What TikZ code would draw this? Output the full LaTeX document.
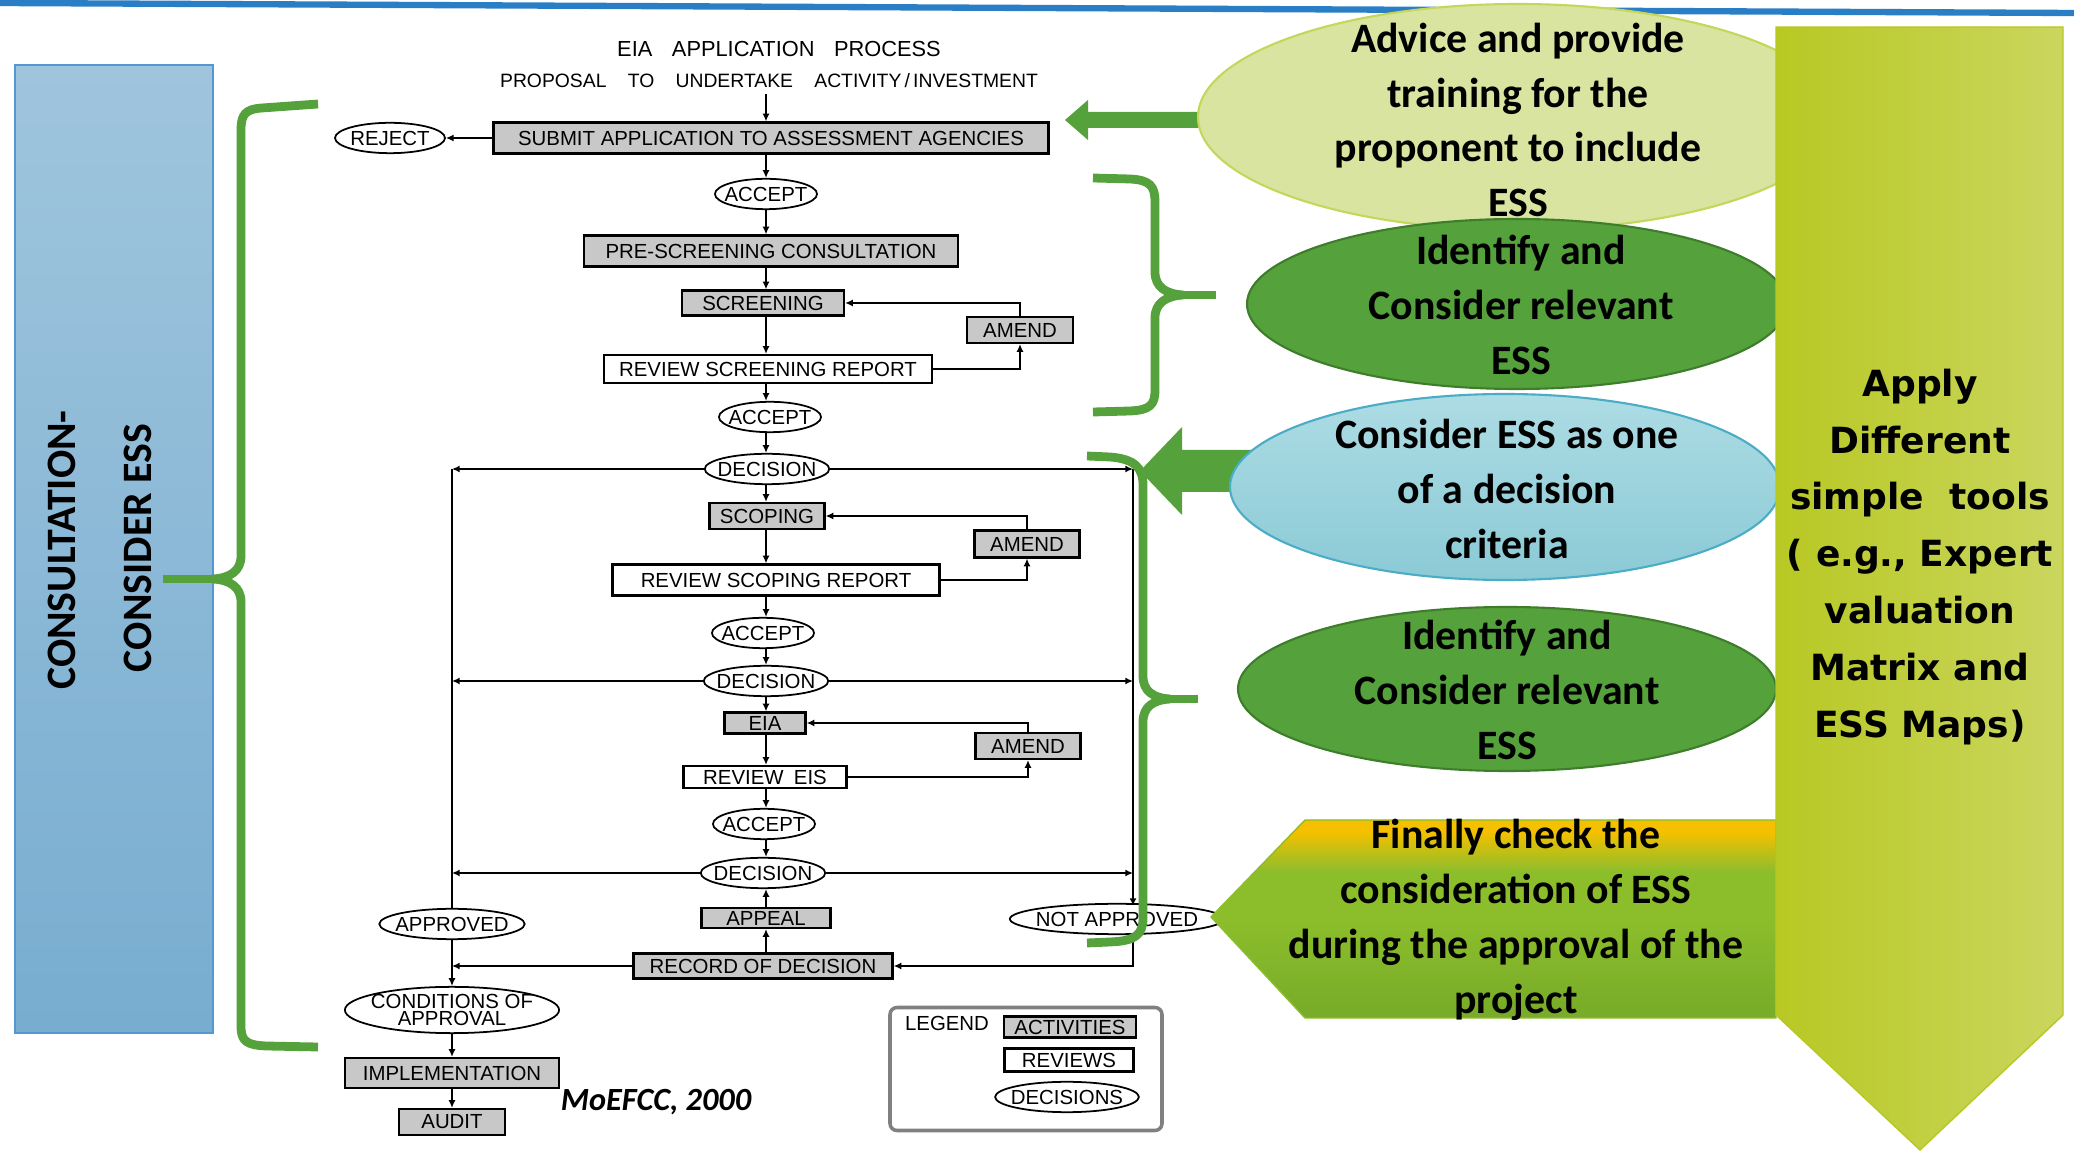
\documentclass[tikz,border=0pt]{standalone}
\usepackage{fontspec}
\setmainfont{Liberation Sans}
\newfontfamily\calfont{Carlito}
\newfontfamily\widefont{DejaVu Sans}
\usetikzlibrary{arrows.meta,shapes.geometric}

\definecolor{essgreen}{HTML}{55A13B}
\definecolor{essdark}{HTML}{3E7D2B}
\definecolor{paleolive}{HTML}{D9E4A0}
\definecolor{oliveline}{HTML}{C6D65A}
\definecolor{skytop}{HTML}{ADDCE4}
\definecolor{skybot}{HTML}{8BCAD6}
\definecolor{skyline}{HTML}{4BACC6}
\definecolor{limeleft}{HTML}{B8C823}
\definecolor{limeright}{HTML}{CAD65E}
\definecolor{boxgray}{HTML}{C8C8C8}
\definecolor{steeltop}{HTML}{9FC5DD}
\definecolor{steelbot}{HTML}{78ADD0}
\definecolor{topblue}{HTML}{2A7EC6}
\definecolor{amber}{HTML}{F5C000}
\definecolor{leaf}{HTML}{8CBE2B}
\definecolor{leafdark}{HTML}{77AB29}

\pgfdeclareverticalshading{checkfade}{100bp}{color(0bp)=(leafdark); color(25bp)=(leafdark); color(50bp)=(leaf); color(62bp)=(leaf); color(72bp)=(amber); color(100bp)=(amber)}

\tikzset{
  dims/.style 2 args={minimum width=#1*0.01cm, minimum height=#2*0.01cm},
  flow/.style={font=\fontsize{5.8}{6.2}\selectfont, inner sep=0pt},
  act/.style={flow, rectangle, draw, line width=0.6pt, fill=boxgray},
  rev/.style={flow, rectangle, draw, line width=0.6pt, fill=white},
  dec/.style={flow, ellipse, draw, line width=0.5pt, fill=white, inner xsep=-1.5pt, inner ysep=1pt},
  arr/.style={line width=0.5pt, -{Latex[length=2.2pt,width=2pt]}},
  brace/.style={essgreen, line width=2.5pt, line join=round},
  note/.style={font=\calfont\bfseries\fontsize{11.9}{15.6}\selectfont, align=center},
}

\begin{document}
\begin{tikzpicture}[x=0.01cm, y=-0.01cm]
  \fill[white] (0,0) rectangle (2074,1152);
  \useasboundingbox (0,0) rectangle (2074,1152);

  % Top rule and consultation panel
  \draw[topblue, line width=1.8pt] (0,3) -- (2074,13);
  \draw[top color=steeltop, bottom color=steelbot, draw=topblue!80] (15,65) rectangle (213,1033);
  \node[rotate=90, font=\calfont\bfseries\fontsize{11.9}{14}\selectfont] (consult) at (62,550) {CONSULTATION-};
  \node[rotate=90, font=\calfont\bfseries\fontsize{11.9}{14}\selectfont] (consider) at (138,548) {CONSIDER ESS};

  % EIA application process
  \coordinate (col) at (766,0);
  \node[inner sep=0pt, font={\fontsize{6.2}{7}\selectfont\spaceskip=0.9em\relax}] (title) at (779,49) {EIA APPLICATION PROCESS};
  \node[inner sep=0pt, font={\fontsize{5.5}{6}\selectfont\spaceskip=1.1em\relax}] (proposal) at (769,81) {PROPOSAL TO UNDERTAKE ACTIVITY\,/\,INVESTMENT};

  \node[act, dims={555}{31}] (submit) at (771,138) {SUBMIT APPLICATION TO ASSESSMENT AGENCIES};
  \node[dec, dims={110}{29}] (reject) at (390,138) {REJECT};
  \node[dec] (accA) at (766,194) {ACCEPT};
  \node[act, dims={374}{31}] (pre) at (771,251) {PRE-SCREENING CONSULTATION};
  \node[act, dims={162}{25}] (scr) at (763,303) {SCREENING};
  \node[act, dims={106}{26}] (amendA) at (1020,330) {AMEND};
  \node[rev, dims={328}{28}] (revScr) at (768,369) {REVIEW SCREENING REPORT};
  \node[dec] (accB) at (770,417) {ACCEPT};
  \node[dec] (decA) at (767,469) {DECISION};
  \node[act, dims={115}{26}] (scop) at (767,516) {SCOPING};
  \node[act, dims={105}{27}] (amendB) at (1027,544) {AMEND};
  \node[rev, dims={327}{31}] (revScop) at (776,580) {REVIEW SCOPING REPORT};
  \node[dec] (accC) at (763,633) {ACCEPT};
  \node[dec] (decB) at (766,681) {DECISION};
  \node[act, dims={81}{21}] (eia) at (765,723) {EIA};
  \node[act, dims={105}{26}] (amendC) at (1028,746) {AMEND};
  \node[rev, dims={163}{22}] (revEis) at (765,777) {REVIEW\enspace EIS};
  \node[dec] (accD) at (764,824) {ACCEPT};
  \node[dec] (decC) at (763,873) {DECISION};
  \node[act, dims={129}{20}] (appeal) at (766,918) {APPEAL};
  \node[dec] (approved) at (452,924) {APPROVED};
  \node[dec] (notapp) at (1117,919) {NOT APPROVED};
  \node[act, dims={259}{25}] (record) at (763,966) {RECORD OF DECISION};
  \node[dec, align=center, inner ysep=0.3pt, font=\fontsize{5.8}{4.6}\selectfont] (cond) at (452,1010) {CONDITIONS OF\\APPROVAL};
  \node[act, dims={214}{30}] (impl) at (452,1073) {IMPLEMENTATION};
  \node[act, dims={106}{26}] (audit) at (452,1122) {AUDIT};
  \coordinate (rline) at (1133,906);

  % main column
  \draw[arr, shorten <=1.5pt] (proposal.south -| col) -- (submit.north -| col);
  \draw[arr] (submit.west) -- (reject.east);
  \draw[arr] (submit.south -| col) -- (accA.north -| col);
  \draw[arr] (accA.south -| col) -- (pre.north -| col);
  \draw[arr] (pre.south -| col) -- (scr.north -| col);
  \draw[arr] (scr.south -| col) -- (revScr.north -| col);
  \draw[arr] (revScr.south -| col) -- (accB.north -| col);
  \draw[arr] (accB.south -| col) -- (decA.north -| col);
  \draw[arr] (decA.south -| col) -- (scop.north -| col);
  \draw[arr] (scop.south -| col) -- (revScop.north -| col);
  \draw[arr] (revScop.south -| col) -- (accC.north -| col);
  \draw[arr] (accC.south -| col) -- (decB.north -| col);
  \draw[arr] (decB.south -| col) -- (eia.north -| col);
  \draw[arr] (eia.south -| col) -- (revEis.north -| col);
  \draw[arr] (revEis.south -| col) -- (accD.north -| col);
  \draw[arr] (accD.south -| col) -- (decC.north -| col);
  \draw[arr] (record.north -| col) -- (appeal.south -| col);
  \draw[arr] (appeal.north -| col) -- (decC.south -| col);

  % amend loops
  \draw[arr] (revScr.east) -| (amendA.south);
  \draw[arr] (amendA.north) |- (scr.east);
  \draw[arr] (revScop.east) -| (amendB.south);
  \draw[arr] (amendB.north) |- (scop.east);
  \draw[arr] (revEis.east) -| (amendC.south);
  \draw[arr] (amendC.north) |- (eia.east);

  % decision branches
  \draw[arr] (decA.west) -- (decA.west -| approved);
  \draw[arr] (decA.east) -- (decA.east -| rline);
  \draw[arr] (decB.west) -- (decB.west -| approved);
  \draw[arr] (decB.east) -- (decB.east -| rline);
  \draw[arr] (decC.west) -- (decC.west -| approved);
  \draw[arr] (decC.east) -- (decC.east -| rline);
  \draw (decA.west -| approved) -- (approved.north);
  \draw[arr] (decA.east -| rline) -- (rline);
  \draw[arr] (notapp.south -| rline) |- (record.east);
  \draw[arr] (record.west) -- (record.west -| approved);
  \draw[arr] (approved.south) -- (cond.north);
  \draw[arr] (cond.south) -- (impl.north);
  \draw[arr] (impl.south) -- (audit.north);

  % Legend and source
  \node[draw=gray, line width=1pt, rounded corners=2pt, dims={272}{123}] (legbox) at (1026,1069) {};
  \node[flow] (legend) at (947,1023) {LEGEND};
  \node[act, dims={132}{21}] (legAct) at (1070,1027) {ACTIVITIES};
  \node[rev, dims={129}{23}] (legRev) at (1069,1060) {REVIEWS};
  \node[dec] (legDec) at (1067,1097) {DECISIONS};
  \node[font=\calfont\bfseries\itshape\fontsize{9.2}{11}\selectfont] (source) at (656,1102) {MoEFCC, 2000};

  % Braces
  \draw[brace] (318,104) -- (262,108) .. controls (245,109) and (241,115) .. (241,130) -- (241,556) .. controls (241,571) and (230,578) .. (213,579) .. controls (230,580) and (241,587) .. (241,602) -- (241,1026) .. controls (241,1041) and (246,1045) .. (266,1046) -- (318,1047);
  \draw[brace] (213,579) -- (163,579);
  \draw[brace] (1093,178) -- (1130,179) .. controls (1150,180) and (1155,186) .. (1155,202) -- (1155,272) .. controls (1155,287) and (1166,294) .. (1183,295) .. controls (1166,296) and (1155,303) .. (1155,318) -- (1155,390) .. controls (1155,405) and (1150,410) .. (1130,411) -- (1093,412);
  \draw[brace] (1183,295) -- (1216,295);
  \draw[brace] (1087,456) -- (1110,457) .. controls (1135,459) and (1143,468) .. (1143,485) -- (1143,676) .. controls (1143,691) and (1153,698) .. (1170,699) .. controls (1153,700) and (1143,707) .. (1143,722) -- (1143,918) .. controls (1143,935) and (1135,941) .. (1110,942) -- (1087,943);
  \draw[brace] (1170,699) -- (1198,699);

  % Green arrows
  \fill[essgreen] (1065,120) -- (1088,100) -- (1088,112) -- (1210,112) -- (1210,128) -- (1088,128) -- (1088,140) -- cycle;
  \fill[essgreen] (1140,471) -- (1182,427) -- (1182,450) -- (1252,450) -- (1252,492) -- (1182,492) -- (1182,515) -- cycle;

  % ESS notes
  \draw[fill=paleolive, draw=oliveline, line width=0.6pt] (1518,117) ellipse (320 and 113);
  \node[note] (advice) at (1518,120) {Advice and provide\\training for the\\proponent to include\\ESS};
  \draw[fill=essgreen, draw=essdark, line width=0.6pt] (1517,304) ellipse (270 and 85);
  \node[note] (identA) at (1521,305) {Identify and\\Consider relevant\\ESS};
  \draw[top color=skytop, bottom color=skybot, draw=skyline, line width=0.6pt] (1505,487) ellipse (275 and 93);
  \node[note] (criteria) at (1507,489) {Consider ESS as one\\of a decision\\criteria};
  \draw[fill=essgreen, draw=essdark, line width=0.6pt] (1507,689) ellipse (269 and 82);
  \node[note] (identB) at (1507,690) {Identify and\\Consider relevant\\ESS};

  % Final check
  \draw[draw=leaf, shading=checkfade] (1211,917) -- (1305,820) -- (1776,820) -- (1776,1018) -- (1305,1018) -- cycle;
  \node[note] (finally) at (1516,920) {Finally check the\\consideration of ESS\\during the approval of the\\project};

  % Tools arrow
  \draw[draw=limeleft, left color=limeleft, right color=limeright] (1776,27) -- (2063,27) -- (2063,1015) -- (1920,1150) -- (1776,1015) -- cycle;
  \node[font=\widefont\bfseries\fontsize{10.25}{16.2}\selectfont, align=center] (tools) at (1920,557) {Apply\\Different\\simple\ \ tools\\( e.g., Expert\\valuation\\Matrix and\\ESS Maps)};
\end{tikzpicture}
\end{document}
